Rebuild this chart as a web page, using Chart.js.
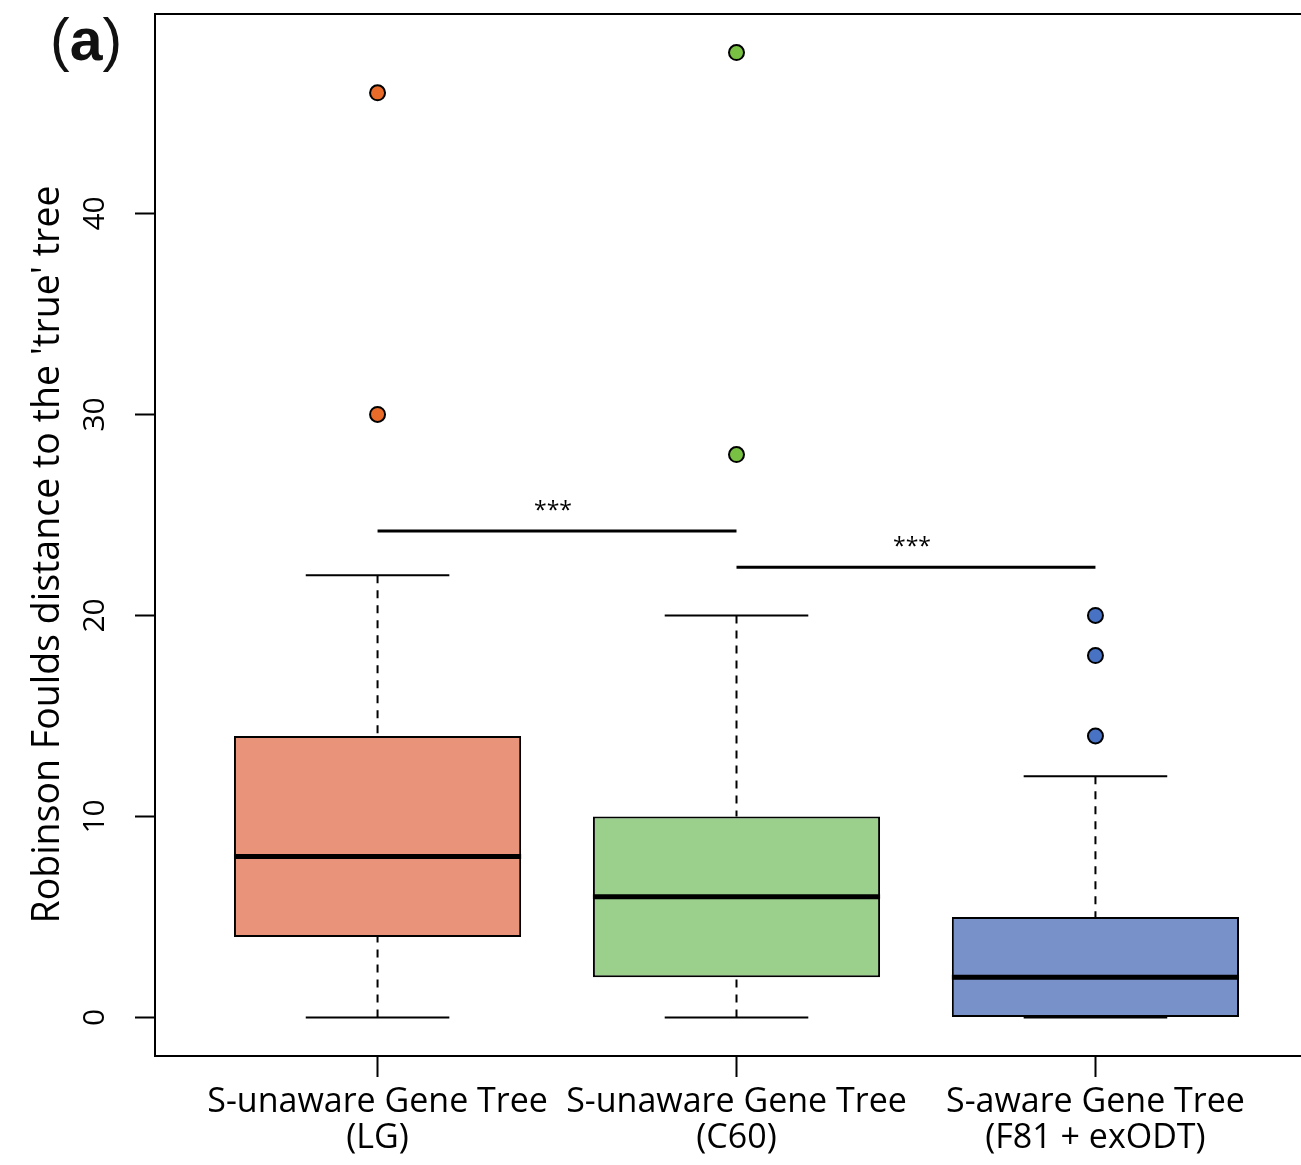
<!DOCTYPE html>
<html>
<head>
<meta charset="utf-8">
<script src="https://cdn.jsdelivr.net/npm/chart.js@4.4.1/dist/chart.umd.min.js"></script>
<style>
  html, body { margin: 0; padding: 0; background: #fff; overflow: hidden; }
  #wrap { position: relative; width: 1301px; height: 1165px; overflow: hidden; }
  #myChart { position: absolute; left: 0; top: 0; }
  #panel { position: absolute; left: 50px; top: 11px; font-family: "Liberation Sans", Arial, sans-serif; font-size: 59px; line-height: 1; color: #111; }
</style>
</head>
<body>
<div id="wrap">
  <canvas id="myChart" width="1330" height="1165"></canvas>
  <div id="panel">(<b>a</b>)</div>
</div>
<script>
// Box plot values
var positions = [1, 2, 3];
var xLabels = [
    ['S-unaware Gene Tree', '(LG)'],
    ['S-unaware Gene Tree', '(C60)'],
    ['S-aware Gene Tree', '(F81 + exODT)']
];
var whiskerLow = [0, 0, 0];
var q1 = [4, 2, 0];
var median = [8, 6, 2];
var q3 = [14, 10, 5];
var whiskerHigh = [22, 20, 12];
var outliers = [[30, 46], [28, 48], [14, 18, 20]];
var yTicks = [0, 10, 20, 30, 40];

// significance brackets
var sigFrom = [1, 2];
var sigTo = [2, 3];
var sigHeights = [24.2, 22.4];
var sigLabels = ['***', '***'];

var boxColors = ['#E8937A', '#9ACF8C', '#7891C9'];
var dotColors = ['#E86B2A', '#79C143', '#4872C4'];

var BOX_HALF = 0.4;
var CAP_HALF = 0.2;

var datasets = [];

// boxes
datasets.push({
    type: 'bar',
    data: positions.map(function (p, i) { return { x: p, y: [q1[i], q3[i]] }; }),
    backgroundColor: boxColors,
    borderColor: '#000',
    borderWidth: 2,
    borderSkipped: false,
    categoryPercentage: 0.8,
    barPercentage: 1.0,
    order: 5
});

positions.forEach(function (p, i) {
    // dashed whiskers
    datasets.push({
        type: 'line',
        data: [{ x: p, y: whiskerLow[i] }, { x: p, y: q1[i] }, { x: p, y: null },
               { x: p, y: whiskerHigh[i] }, { x: p, y: q3[i] }],
        borderColor: '#000',
        borderWidth: 2,
        borderDash: [8, 7],
        pointRadius: 0,
        order: 6
    });
    // whisker caps
    datasets.push({
        type: 'line',
        data: [{ x: p - CAP_HALF, y: whiskerLow[i] }, { x: p + CAP_HALF, y: whiskerLow[i] }, { x: p, y: null },
               { x: p - CAP_HALF, y: whiskerHigh[i] }, { x: p + CAP_HALF, y: whiskerHigh[i] }],
        borderColor: '#000',
        borderWidth: 2,
        pointRadius: 0,
        order: 6
    });
    // median
    datasets.push({
        type: 'line',
        data: [{ x: p - BOX_HALF, y: median[i] }, { x: p + BOX_HALF, y: median[i] }],
        borderColor: '#000',
        borderWidth: 5,
        pointRadius: 0,
        order: 2
    });
    // outliers
    datasets.push({
        type: 'scatter',
        data: outliers[i].map(function (v) { return { x: p, y: v }; }),
        backgroundColor: dotColors[i],
        borderColor: '#000',
        borderWidth: 2,
        pointRadius: 7.5,
        order: 1
    });
});

// significance lines
sigHeights.forEach(function (h, i) {
    datasets.push({
        type: 'line',
        data: [{ x: sigFrom[i], y: h }, { x: sigTo[i], y: h }],
        borderColor: '#000',
        borderWidth: 3,
        pointRadius: 0,
        order: 1
    });
});

var starPlugin = {
    id: 'stars',
    afterDatasetsDraw: function (chart) {
        var ctx = chart.ctx;
        var xs = chart.scales.x, ys = chart.scales.y;
        ctx.save();
        ctx.fillStyle = '#000';
        ctx.font = '23px "Open Sans"';
        ctx.textAlign = 'center';
        ctx.textBaseline = 'alphabetic';
        sigHeights.forEach(function (h, i) {
            var px = xs.getPixelForValue((sigFrom[i] + sigTo[i]) / 2) - 4;
            var py = ys.getPixelForValue(h) - 13;
            ctx.fillText(sigLabels[i], px, py);
        });
        ctx.restore();
    }
};

// no extra label padding, keep the plot frame where it is
function noPad(scale) {
    scale.paddingTop = 0;
    scale.paddingBottom = 0;
    scale.paddingLeft = 0;
    scale.paddingRight = 0;
}

var ctx = document.getElementById('myChart').getContext('2d');
var myChart = new Chart(ctx, {
    type: 'bar',
    data: { datasets: datasets },
    plugins: [starPlugin],
    options: {
        responsive: false,
        animation: false,
        devicePixelRatio: 1,
        layout: { padding: { left: 0, top: 14, right: 12, bottom: 0 } },
        plugins: { legend: { display: false }, tooltip: { enabled: false } },
        scales: {
            x: {
                type: 'linear',
                position: 'bottom',
                min: 0.38,
                max: 3.62,
                offset: false,
                afterBuildTicks: function (scale) {
                    scale.ticks = positions.map(function (v) { return { value: v }; });
                },
                afterFit: function (scale) { scale.height = 109; noPad(scale); },
                grid: {
                    offset: false,
                    drawOnChartArea: false,
                    drawTicks: true,
                    tickLength: 21,
                    tickWidth: 2,
                    tickColor: '#000'
                },
                border: { display: true, color: '#000', width: 2 },
                ticks: {
                    autoSkip: false,
                    maxRotation: 0,
                    padding: 7,
                    color: '#000',
                    font: { family: 'Open Sans', size: 34, lineHeight: 1.06 },
                    callback: function (value, index) { return xLabels[index]; }
                }
            },
            x2: {
                type: 'linear',
                position: 'top',
                min: 0.38,
                max: 3.62,
                display: true,
                afterFit: function (scale) { scale.height = 0; noPad(scale); },
                grid: { display: false, drawTicks: false },
                border: { display: true, color: '#000', width: 2 },
                ticks: { display: false }
            },
            y: {
                type: 'linear',
                position: 'left',
                min: -1.92,
                max: 49.92,
                afterBuildTicks: function (scale) {
                    scale.ticks = yTicks.map(function (v) { return { value: v }; });
                },
                afterFit: function (scale) { scale.width = 155; noPad(scale); },
                grid: {
                    drawOnChartArea: false,
                    drawTicks: true,
                    tickLength: 20,
                    tickWidth: 2,
                    tickColor: '#000'
                },
                border: { display: true, color: '#000', width: 2 },
                ticks: {
                    autoSkip: false,
                    minRotation: 90,
                    maxRotation: 90,
                    crossAlign: 'center',
                    padding: 22,
                    color: '#000',
                    font: { family: 'Open Sans', size: 30 }
                },
                title: {
                    display: true,
                    // trailing spaces nudge the centred title down a little, as in the original
                    text: "Robinson Foulds distance to the 'true' tree    ",
                    color: '#000',
                    font: { family: 'Open Sans', size: 37.5 },
                    padding: { top: 26, bottom: 0 }
                }
            }
        }
    }
});
</script>
</body>
</html>
